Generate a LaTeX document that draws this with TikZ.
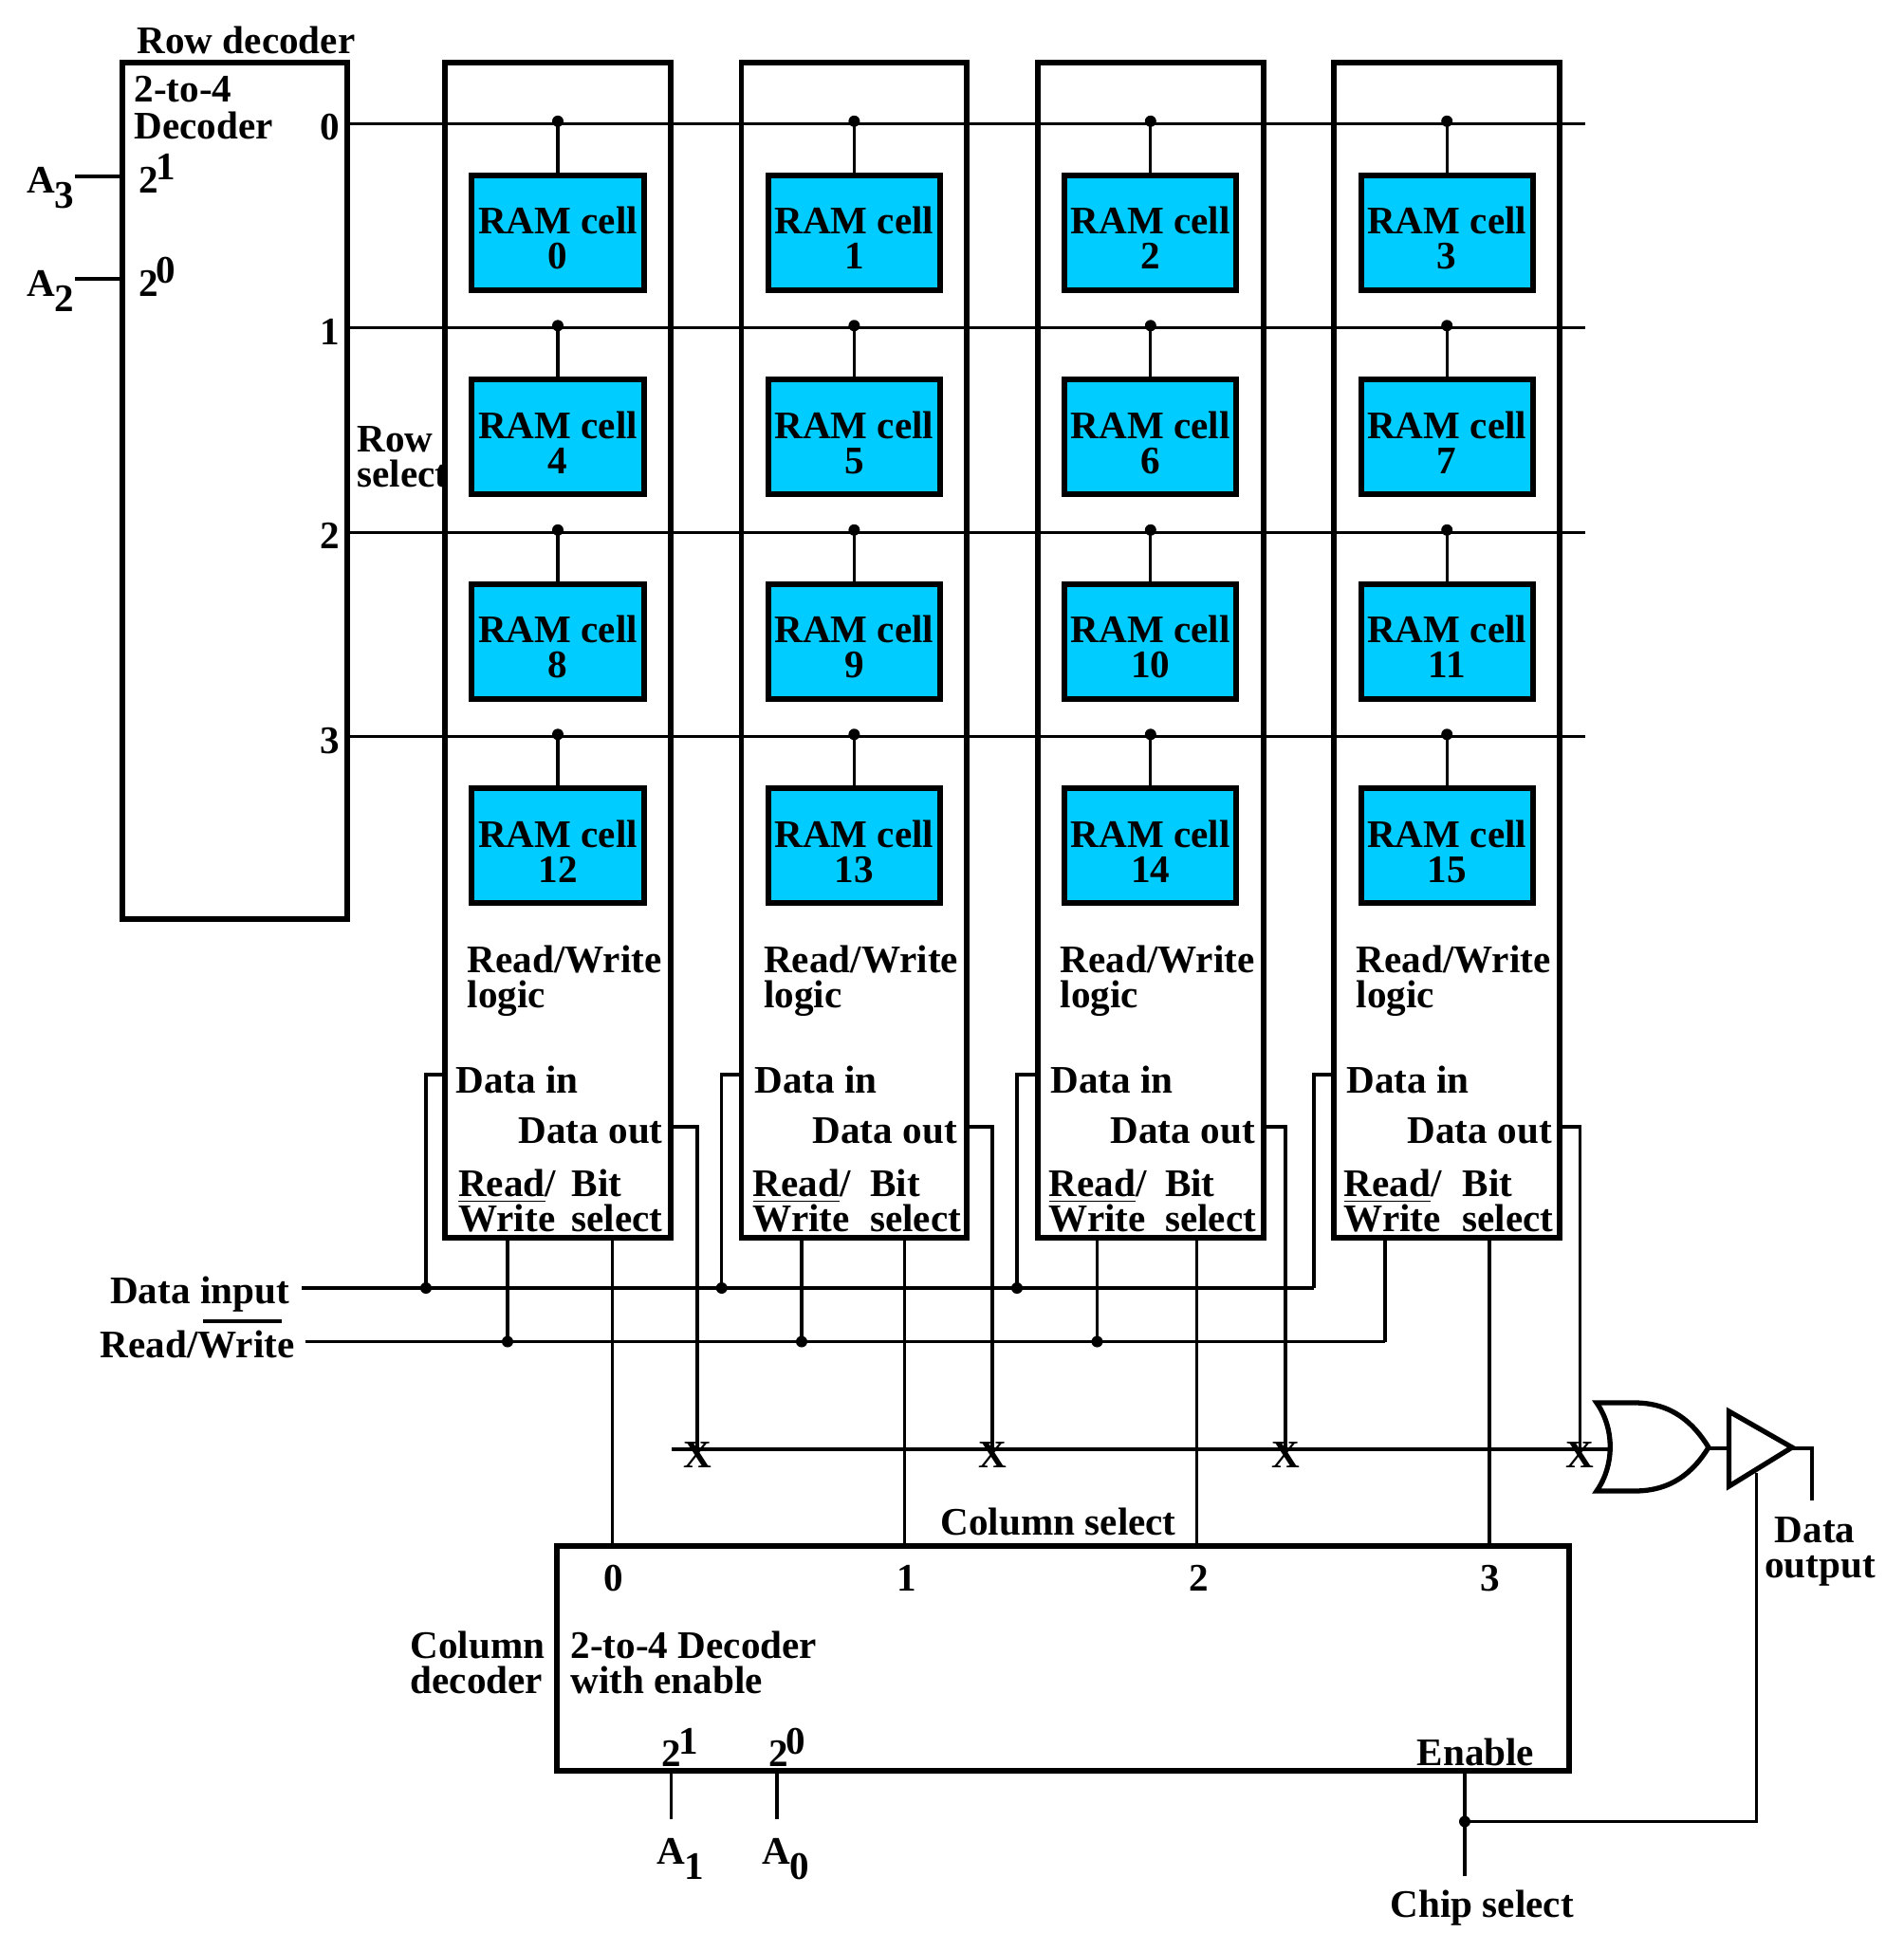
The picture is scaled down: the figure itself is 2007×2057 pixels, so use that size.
\documentclass[tikz,border=0pt]{standalone}
\usepackage{fontspec}
\setmainfont{Liberation Serif}
\definecolor{cellblue}{HTML}{00CCFF}
\newcommand{\supr}[1]{\kern-0.8pt\raisebox{3.7pt}{#1}}
\newcommand{\subr}[1]{\kern-0.3pt\raisebox{-4.8pt}{#1}}
\tikzset{
    txt/.style={font=\fontsize{11.7}{10.4}\selectfont\bfseries, inner sep=0pt, anchor=base west, align=left},
    txtc/.style={txt, anchor=base, align=center},
    wire/.style={line width=0.95pt},
    heavy/.style={line width=1.5pt, line join=miter},
    blockbox/.style={draw, fill=white, line width=1.7pt, inner sep=0pt, outer sep=0pt},
    colbox/.style={blockbox, minimum width=2.375cm, minimum height=12.38cm},
    ramcell/.style={blockbox, fill=cellblue, minimum width=1.81cm, minimum height=1.21cm},
    dot/.style={circle, fill=black, inner sep=0pt, minimum size=0.12cm},
}

\begin{document}
\begin{tikzpicture}[x=0.01cm, y=-0.01cm]
    \useasboundingbox (0,0) rectangle (2007,2057);
    \def\rowstep{215.5};
    \def\colstep{312.4};

    % row decoder
    \node[txt] (rowdeclabel) at (144,56) {Row decoder};
    \node[blockbox, minimum width=2.37cm, minimum height=9.03cm] (rowdec) at (247.5,517.5) {};
    \node[txt] (rowdectype) at (141,146.7) {2-to-4\\[0.8pt]Decoder};
    \node[txt] (rowselect) at (376,513) {Row\\select};
    \node[txt] (a3) at (28,203) {A\subr{3}};
    \node[txt] (a2) at (28,312) {A\subr{2}};
    \node[txt] (pow1) at (146,203) {2\supr{1}};
    \node[txt] (pow0) at (146,312) {2\supr{0}};
    \coordinate (a3end) at (79,186);
    \coordinate (a2end) at (79,294);
    \draw[wire] (a3end) -- (a3end -| rowdec.west);
    \draw[wire] (a2end) -- (a2end -| rowdec.west);

    % columns of cells
    \foreach \c/\lft/\din/\dout/\rd/\bit/\rw/\sel/\dinx/\doutx in {
        0/469/480/546/482.5/602/535/645.5/449/735,
        1/781.5/795/856/793/916.5/845/953.6/760.7/1046,
        2/1094/1107/1170/1105/1227.4/1156.5/1261.5/1072/1355,
        3/1406/1419/1483/1416/1541/1460/1570/1385/1665.5}
    {
        \node[colbox, anchor=north west] (box\c) at (\lft,66) {};
        \node[txt] (rwlogic\c) at (\lft+23,1062) {Read/Write\\logic};
        \node[txt] (datain\c) at (\din,1152.5) {Data in};
        \node[txt] (dataout\c) at (\dout,1205) {Data out};
        \node[txt] (readwrite\c) at (\rd,1298) {\underline{Read}/\\Write};
        \node[txt] (bitsel\c) at (\bit,1298) {Bit\\select};

        % ports on the box
        \coordinate (dinport\c) at (\lft,1133);
        \coordinate (doutport\c) at (\lft+237.5,1188);
        \coordinate (din\c) at (\dinx,1358);
        \coordinate (rw\c) at (\rw,1414.5);
        \coordinate (sel\c) at (\sel,1304);
        \coordinate (cross\c) at (\doutx,1528);
    }

    % row select lines, tap dots, cells
    \foreach \r in {0,1,2,3} {
        \pgfmathsetmacro\yr{130.3 + \r * \rowstep};
        \coordinate (rowstart\r) at (366,\yr);
        \coordinate (rowend\r) at (1671,\yr);
        \draw[wire] (rowstart\r) -- (rowend\r);
        \node[txtc] (rowno\r) at (348,\yr+17.5) {\r};
        \foreach \c in {0,1,2,3} {
            \pgfmathtruncatemacro\n{4 * \r + \c};
            \pgfmathsetmacro\xc{588 + \c * \colstep};
            \node[dot] (tap\n) at (\xc,\yr-2.5) {};
            \node[ramcell] (cell\n) at (\xc,\yr+115) {};
            \node[txtc] (celltext\n) at (\xc,\yr+153.2) {RAM cell\\\n};
            \draw[wire] (tap\n.center) -- (cell\n.north);
        }
    }

    % data input and read/write busses
    \node[txt] (datainput) at (115.5,1374) {Data input};
    \node[txt] (readwrite) at (105,1431) {Read/Write};
    \draw[wire] (214,1393) -- (297,1393);
    \coordinate (dinstart) at (318,1358);
    \coordinate (rwstart) at (321.6,1414.5);
    \draw[wire] (dinstart) -- (din3);
    \draw[wire] (rwstart) -- (rw3);
    \foreach \c in {0,1,2,3} {
        \draw[wire] (din\c) |- (dinport\c);
        \draw[wire] (rw\c) -- (rw\c |- box\c.south);
    }
    \foreach \c in {0,1,2} {
        \node[dot] (dindot\c) at (din\c) {};
        \node[dot] (rwdot\c) at (rw\c) {};
    }

    % column decoder
    \node[blockbox, minimum width=10.665cm, minimum height=2.36cm] (coldec) at (1120.75,1748.5) {};
    \node[txt] (colselect) at (991,1618) {Column select};
    \node[txt] (coldeclabel) at (432,1785) {Column\\decoder};
    \node[txt] (coldectype) at (601,1785) {2-to-4 Decoder\\with enable};
    \node[txt] (cpow1) at (697,1862) {2\supr{1}};
    \node[txt] (cpow0) at (810,1862) {2\supr{0}};
    \node[txt] (enable) at (1493,1861) {Enable};
    \node[txt] (a1) at (692,1965) {A\subr{1}};
    \node[txt] (a0) at (803,1965) {A\subr{0}};
    \node[txtc] (colno0) at (647,1677) {0};
    \node[txtc] (colno1) at (955.6,1677) {1};
    \node[txtc] (colno2) at (1264,1677) {2};
    \node[txtc] (colno3) at (1570.5,1677) {3};
    \coordinate (a1end) at (707.5,1918);
    \coordinate (a0end) at (819,1918);
    \draw[wire] (a1end) -- (a1end |- coldec.south);
    \draw[wire] (a0end) -- (a0end |- coldec.south);

    % multiplexed outputs
    \coordinate (crossstart) at (708,1528);
    \coordinate (gatein) at (1696.5,1528);
    \draw[wire] (crossstart) -- (gatein);
    \foreach \c in {0,1,2,3} {
        \draw[wire] (sel\c) -- (sel\c |- coldec.north);
        \draw[wire] (doutport\c) -| (cross\c);
        \node[txtc] (x\c) at ([yshift=-0.19cm]cross\c) {X};
    }

    % or gate and tri-state buffer
    \draw[heavy] (1683,1479) -- (1723,1479) .. controls (1762,1479) and (1785,1500) .. (1801,1526)
        .. controls (1785,1552) and (1762,1572) .. (1723,1572) -- (1683,1572)
        .. controls (1702,1545) and (1702,1506) .. (1683,1479) -- cycle;
    \draw[heavy] (1822.5,1488) -- (1889,1526) -- (1822.5,1567) -- cycle;
    \coordinate (orout) at (1801,1527);
    \coordinate (bufin) at (1820.5,1527);
    \coordinate (bufout) at (1889,1527);
    \coordinate (outend) at (1910,1582);
    \draw[wire] (orout) -- (bufin);
    \draw[wire] (bufout) -| (outend);
    \node[txtc] (dataoutput) at (1918.5,1663) {Data\hspace*{3pt}\\output};

    % chip select
    \node[txt] (chipselect) at (1465,2021) {Chip select};
    \coordinate (chipend) at (1544,1978);
    \coordinate (bufen) at (1851.5,1552.7);
    \node[dot] (chipdot) at (1544,1920.5) {};
    \draw[wire] (chipend) -- (chipend |- coldec.south);
    \draw[wire] (chipdot.center) -| (bufen);
\end{tikzpicture}
\end{document}
